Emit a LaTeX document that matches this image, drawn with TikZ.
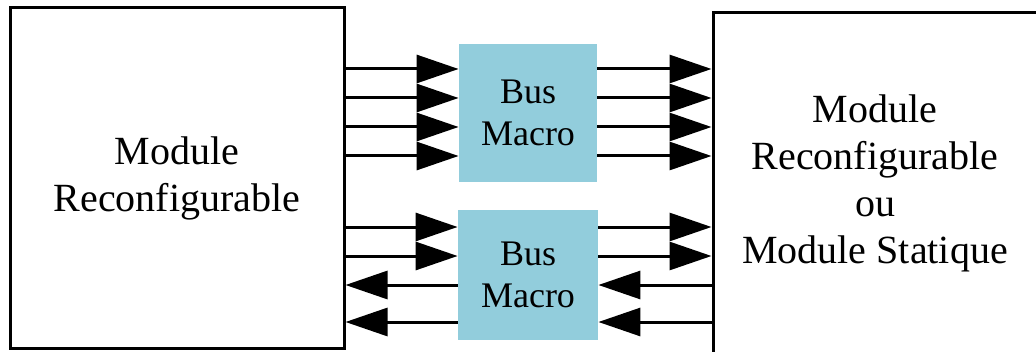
\documentclass[tikz,border=0pt]{standalone}
\usepackage{fontspec}
\setmainfont{Liberation Serif}
\usetikzlibrary{arrows.meta}
\definecolor{busblue}{RGB}{146,205,220}
\begin{document}
\begin{tikzpicture}[x=0.5pt, y=-0.5pt,
    module/.style={rectangle, draw, line width=1.5pt, inner sep=0pt,
        align=center, font=\fontsize{20}{23.5}\selectfont},
    busmacro/.style={rectangle, fill=busblue, inner sep=0pt,
        align=center, font=\fontsize{18}{21}\selectfont},
    signal/.style={line width=1.5pt, -{Triangle[length=21pt, width=14pt]}}
]
\useasboundingbox (0,0) rectangle (1036,352);

\node (LeftModule) [module, minimum width=167pt, minimum height=170pt]
  at (177,178) {Module\\Reconfigurable};
\node (BusMacro01) [busmacro, minimum width=69pt, minimum height=69pt]
  at (528,113) {Bus\\Macro};
\node (BusMacro02) [busmacro, minimum width=70pt, minimum height=65pt]
  at (528,275) {Bus\\Macro};
\node (RightModule) [module, minimum width=162pt, minimum height=170pt]
  at (875,183) {Module\\Reconfigurable\\ou\\Module Statique};

% upper bus: four lines to the right
\foreach \y in {69,98,127,156} {
  \draw [signal] (LeftModule.east |- 0,\y) -- (BusMacro01.west |- 0,\y);
  \draw [signal] (BusMacro01.east |- 0,\y) -- (RightModule.west |- 0,\y);
}

% lower bus: two lines each way
\foreach \y in {227,256} {
  \draw [signal] (LeftModule.east |- 0,\y) -- (BusMacro02.west |- 0,\y);
  \draw [signal] (BusMacro02.east |- 0,\y) -- (RightModule.west |- 0,\y);
}
\foreach \y in {285,322} {
  \draw [signal] (BusMacro02.west |- 0,\y) -- (LeftModule.east |- 0,\y);
  \draw [signal] (RightModule.west |- 0,\y) -- (BusMacro02.east |- 0,\y);
}

\end{tikzpicture}
\end{document}
